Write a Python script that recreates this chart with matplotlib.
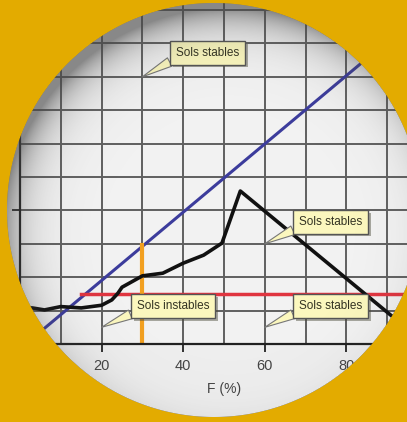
import numpy as np
import matplotlib
matplotlib.use("Agg")
import matplotlib.pyplot as plt
import matplotlib.patheffects as pe

plt.rcParams["font.family"] = ["Liberation Sans", "DejaVu Sans"]

# --- data ---
curve_f = [0, 3, 6, 10, 15, 20, 22.5, 24, 25, 30, 35, 40, 45, 49.5, 54, 91.5, 100]
curve_y = [5.4, 5.4, 5.1, 5.6, 5.4, 5.8, 6.6, 7.6, 8.5, 10.2, 10.6, 12.1, 13.3, 15.1, 22.9, 4.0, -0.3]

blue_f = [1.4, 100]
blue_y = [0.0, 50.4]

red_f = [15, 100]
red_y = [7.5, 7.5]

orange_f = [30, 30]
orange_y = [0, 14.8]

labels = ["Sols stables", "Sols stables", "Sols instables", "Sols stables"]
label_xy = [(46, 43.6), (76.2, 18.3), (37.5, 5.7), (76.2, 5.7)]
target_xy = [(30, 40), (60, 15), (20, 2.5), (60, 2.5)]

xticks = [20, 40, 60, 80]

W, H = 407, 422
fig = plt.figure(figsize=(W / 100, H / 100), dpi=100)
fig.patch.set_facecolor("#EEEEEE")

# axes: F=0 at x=20px, 4.08 px per %, y=0 at 344px, 6.68 px per unit
ax = fig.add_axes([20 / W, (H - 344) / H, 408 / W, 55 * 6.68 / H])
ax.set_facecolor("#F2F2F2")
ax.set_xlim(0, 100)
ax.set_ylim(0, 55)
ax.set_xticks(xticks)
ax.set_xticks(np.arange(0, 101, 10), minor=True)
ax.set_yticks([0, 20, 40])
ax.set_yticks(np.arange(0, 56, 5), minor=True)
ax.set_yticklabels([])
ax.grid(True, which="both", color="#606060", lw=1.4)
ax.set_axisbelow(True)
for s in ["top", "right"]:
    ax.spines[s].set_visible(False)
for s in ["left", "bottom"]:
    ax.spines[s].set_linewidth(1.6)
    ax.spines[s].set_color("#222222")
ax.tick_params(which="major", length=6, width=1.3, color="#222222",
               labelsize=10.5, labelcolor="#444444", pad=5)
ax.tick_params(which="minor", length=0)
ax.set_xlabel("F (%)", fontsize=10, color="#444444", labelpad=6)

ax.plot(blue_f, blue_y, color="#3C3C9C", lw=2.2)
ax.plot(red_f, red_y, color="#E03540", lw=2.5)
ax.plot(orange_f, orange_y, color="#F2A020", lw=3)
ax.plot(curve_f, curve_y, color="#111111", lw=2.6)

for txt, (tx, ty), (px, py) in zip(labels, label_xy, target_xy):
    t = ax.annotate(txt, xy=(px, py), xytext=(tx, ty), ha="center", va="center",
                    fontsize=8.5, color="#333322",
                    bbox=dict(boxstyle="square,pad=0.5", fc="#FBF7BE", ec="#555555", lw=1),
                    arrowprops=dict(arrowstyle="wedge,tail_width=0.8", fc="#FBF7BE",
                                    ec="#777777", lw=0.8, relpos=(0.08, 0.25),
                                    shrinkA=0, shrinkB=0))
    t.get_bbox_patch().set_path_effects(
        [pe.SimplePatchShadow(offset=(2, -2), alpha=0.45), pe.Normal()])

# magnifier: gold outside the circle, inner shadow toward the top-left
yy, xx = np.mgrid[0:H, 0:W] + 0.5
cx, cy, R = 214, 210, 207
d = np.hypot(xx - cx, yy - cy)
e = (R + 20) - np.hypot(xx - cx - 15, yy - cy - 25)
over = np.zeros((H, W, 4))
shade = 0.62 * np.exp(-np.clip(e, 0, None) / 20)
over[..., :3] = 0.28
over[..., 3] = shade
gold = np.clip(d - R + 0.5, 0, 1)
over[..., 0] = over[..., 0] * (1 - gold) + gold * 0xE3 / 255
over[..., 1] = over[..., 1] * (1 - gold) + gold * 0xAB / 255
over[..., 2] = over[..., 2] * (1 - gold)
over[..., 3] = over[..., 3] * (1 - gold) + gold

ov = fig.add_axes([0, 0, 1, 1], zorder=10)
ov.imshow(over, extent=(0, W, H, 0), interpolation="bilinear")
ov.set_xlim(0, W)
ov.set_ylim(H, 0)
ov.axis("off")

fig.savefig("out.png", dpi=100, facecolor=fig.get_facecolor())
